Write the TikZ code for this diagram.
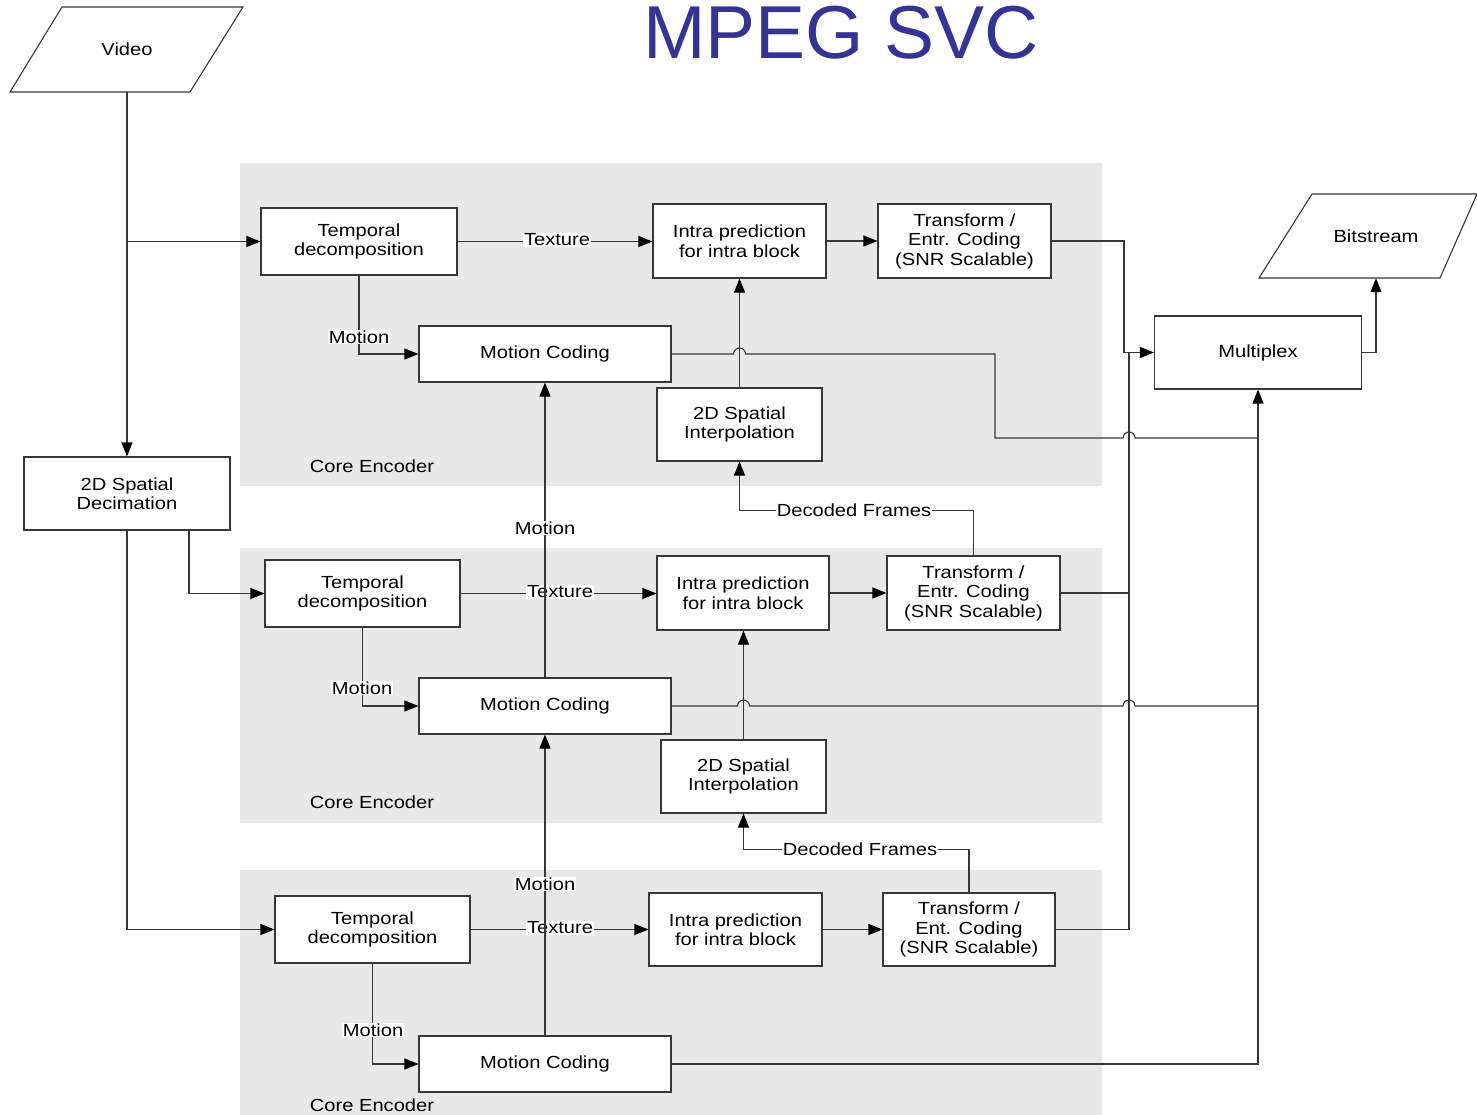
\documentclass[tikz,border=0pt]{standalone}
\usepackage{fontspec}
\setmainfont{Liberation Sans}[FakeStretch=1.15]
\newfontfamily\titlefont{Liberation Sans}
\usetikzlibrary{arrows.meta}
\definecolor{panelgray}{RGB}{232,232,232}
\definecolor{titleblue}{RGB}{51,51,153}
\definecolor{linegray}{RGB}{55,55,55}

\begin{document}
\begin{tikzpicture}[x=1pt,y=-1pt,
  every node/.style={font=\fontsize{17.5}{19.5}\selectfont},
  block/.style={draw=linegray, line width=1.1pt, fill=white, inner sep=0pt,
                align=center, rectangle},
  sz/.style 2 args={minimum width=#1pt, minimum height=#2pt},
  ghost/.style={inner sep=0pt, align=center, rectangle},
  panel/.style={fill=panelgray, draw=none},
  wire/.style={draw=linegray, line width=1.1pt},
  arr/.style={wire, -{Triangle[length=14pt,width=11pt,color=black]}},
  tag/.style={fill=white, inner sep=1pt},
  caption/.style={inner sep=0pt}
]
\useasboundingbox (0,0) rectangle (1477,1115);

% encoder panels
\fill[panel] (240,163) rectangle (1102,486);
\fill[panel] (240,548) rectangle (1102,823);
\fill[panel] (240,870) rectangle (1102,1115);

% title
\node[caption, anchor=base, font=\titlefont\fontsize{75}{80}\selectfont, text=titleblue]
  (title) at (841,59) {MPEG SVC};

% input and output parallelograms
\draw[wire, line join=miter] (10,92) -- (62,7) -- (243,7) -- (190,92) -- cycle;
\node[ghost, sz={0}{85}] (video) at (127,49.5) {Video};
\draw[wire, line join=miter] (1259,278) -- (1312,194) -- (1477,194) -- (1440,278) -- cycle;
\node[ghost, sz={0}{84}] (bits) at (1376,236) {Bitstream};

% side blocks
\node[block, sz={206}{73}] (dec) at (127,493.5) {2D Spatial\\Decimation};
\node[block, sz={207}{73}] (mux) at (1258,352.5) {Multiplex};

% layer 1
\node[block, sz={196}{67}] (t1) at (359,241.5) {Temporal\\decomposition};
\node[block, sz={173}{74}] (intra1) at (739.5,241) {Intra prediction\\for intra block};
\node[block, sz={173}{74}] (tr1) at (964.5,241) {Transform /\\Entr. Coding\\(SNR Scalable)};
\node[block, sz={252}{56}] (mc1) at (545,354) {Motion Coding};
\node[block, sz={165}{73}] (si1) at (739.5,424.5) {2D Spatial\\Interpolation};
\node[caption] (ce1) at (372,466) {Core Encoder};

% layer 2
\node[block, sz={195}{67}] (t2) at (362.5,593.5) {Temporal\\decomposition};
\node[block, sz={172}{74}] (intra2) at (743,593) {Intra prediction\\for intra block};
\node[block, sz={173}{74}] (tr2) at (973.5,593) {Transform /\\Entr. Coding\\(SNR Scalable)};
\node[block, sz={252}{56}] (mc2) at (545,706) {Motion Coding};
\node[block, sz={165}{73}] (si2) at (743.5,776.5) {2D Spatial\\Interpolation};
\node[caption] (ce2) at (372,802) {Core Encoder};

% layer 3
\node[block, sz={195}{67}] (t3) at (372.5,929.5) {Temporal\\decomposition};
\node[block, sz={173}{73}] (intra3) at (735.5,929.5) {Intra prediction\\for intra block};
\node[block, sz={172}{73}] (tr3) at (969,929.5) {Transform /\\Ent. Coding\\(SNR Scalable)};
\node[block, sz={252}{56}] (mc3) at (545,1064) {Motion Coding};
\node[caption] (ce3) at (372,1105) {Core Encoder};

% input distribution
\draw[arr] (video.south) -- (dec.north);
\draw[arr] (video.south |- t1.west) -- (t1.west);
\draw[arr] ([xshift=62pt]dec.south) |- (t2.west);
\draw[arr] (dec.south) |- (t3.west);

% texture paths
\draw[arr] (t1.east) -- (t1.east -| intra1.west);
\node[tag] (tx1) at (557,240) {Texture};
\draw[arr] (t2.east) -- (t2.east -| intra2.west);
\node[tag] (tx2) at (560,592) {Texture};
\draw[arr] (t3.east) -- (t3.east -| intra3.west);
\node[tag] (tx3) at (560,928) {Texture};

% motion from temporal decomposition
\draw[arr] (t1.south) |- (mc1.west);
\node[tag] (mo1) at (359,337) {Motion};
\draw[arr] (t2.south) |- (mc2.west);
\node[tag] (mo2) at (362,688) {Motion};
\draw[arr] (t3.south) |- (mc3.west);
\node[tag] (mo3) at (373,1030) {Motion};

% inter-layer motion
\draw[arr] (mc2.north) -- (mc1.south);
\node[tag] (mo4) at (545,528) {Motion};
\draw[arr] (mc3.north) -- (mc2.south);
\node[tag] (mo5) at (545,884) {Motion};

% intra to transform
\draw[arr] (intra1.east) -- (intra1.east -| tr1.west);
\draw[arr] (intra2.east) -- (intra2.east -| tr2.west);
\draw[arr] (intra3.east) -- (intra3.east -| tr3.west);

% interpolation to intra prediction
\draw[arr] (si1.north) -- (si1.north |- intra1.south);
\draw[arr] (si2.north) -- (si2.north |- intra2.south);

% decoded frames feedback
\draw[arr] (tr2.north) -- ++(0,-45) -| (si1.south);
\node[tag] (df1) at (854,510) {Decoded Frames};
\draw[arr] (tr3.north) -- ++(0,-43) -| (si2.south);
\node[tag] (df2) at (860,849) {Decoded Frames};

% texture bitstreams to multiplex
\coordinate (busA) at (1124,352.5);
\coordinate (busB) at (1129,352.5);
\draw[arr] (tr1.east) -| (busA) -- (mux.west);
\draw[wire] (tr2.east) -| (busB);
\draw[wire] (tr3.east) -| (busB);

% motion bitstreams to multiplex
\draw[wire] (mc1.east) -- (733.5,354) arc[start angle=180, end angle=0, radius=6pt]
  -- (995,354) -- (995,438) -- (1123,438) arc[start angle=180, end angle=0, radius=6pt]
  -- (mux.south |- 0,438);
\draw[wire] (mc2.east) -- (737.5,706) arc[start angle=180, end angle=0, radius=6pt]
  -- (1123,706) arc[start angle=180, end angle=0, radius=6pt]
  -- (mux.south |- 0,706);
\draw[arr] (mc3.east) -| (mux.south);

% multiplex output
\draw[arr] (mux.east) -| (bits.south);
\end{tikzpicture}
\end{document}
